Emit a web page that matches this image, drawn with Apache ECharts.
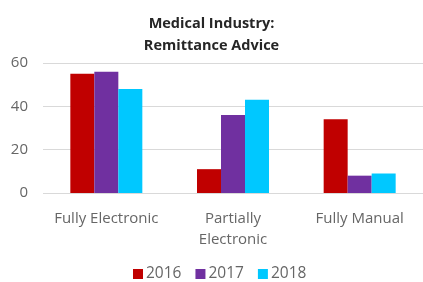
<!DOCTYPE html>
<html>
<head>
<meta charset="utf-8">
<script src="https://cdn.jsdelivr.net/npm/echarts@6/dist/echarts.min.js"></script>
<style>
  html, body { margin: 0; padding: 0; background: #fff; }
  #chart { width: 423px; height: 282px; }
</style>
</head>
<body>
<div id="chart"></div>
<script>
const categories = ['Fully Electronic', 'Partially\nElectronic', 'Fully Manual'];
const years = ['2016', '2017', '2018'];
const values2016 = [55, 11, 34];
const values2017 = [56, 36, 8];
const values2018 = [48, 43, 9];
const yTicks = [0, 20, 40, 60];
const colors = ['#C00000', '#7030A0', '#00C8FF'];

const font = '"Open Sans", sans-serif';
const chart = echarts.init(document.getElementById('chart'));

const seriesData = [values2016, values2017, values2018];

chart.setOption({
  animation: false,
  color: colors,
  title: {
    text: 'Medical Industry:\nRemittance Advice',
    left: 'center',
    top: 8,
    textStyle: { fontFamily: font, fontSize: 14.5, fontWeight: 'bold', color: '#262626', lineHeight: 22 }
  },
  legend: {
    top: 261,
    left: 128,
    itemWidth: 10,
    itemHeight: 10,
    itemGap: 14,
    icon: 'rect',
    textStyle: { fontFamily: font, fontSize: 15.5, color: '#666666', padding: [0, 0, 0, -2] },
    data: years
  },
  grid: { left: 43, right: 0, top: 63, bottom: 89 },
  xAxis: {
    type: 'category',
    data: categories,
    axisLine: { show: false },
    axisTick: { show: false },
    axisLabel: { fontFamily: font, fontSize: 15, color: '#666666', margin: 15, lineHeight: 21, interval: 0 }
  },
  yAxis: {
    type: 'value',
    min: yTicks[0],
    max: yTicks[yTicks.length - 1],
    interval: 20,
    axisLine: { show: false },
    axisTick: { show: false },
    axisLabel: { fontFamily: font, fontSize: 15, color: '#666666', margin: 15 },
    splitLine: { lineStyle: { color: '#D9D9D9', width: 1 } }
  },
  series: years.map((y, i) => ({
    name: y,
    type: 'bar',
    data: seriesData[i],
    barWidth: 24,
    barGap: '0%'
  }))
});
</script>
</body>
</html>
